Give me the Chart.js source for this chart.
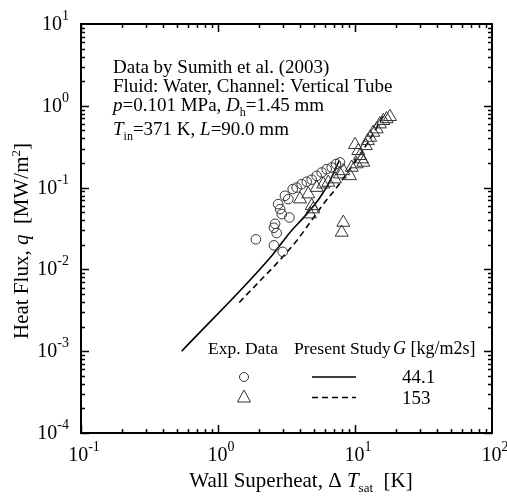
<!DOCTYPE html>
<html>
<head>
<meta charset="utf-8">
<script src="https://cdn.jsdelivr.net/npm/chart.js@4"></script>
<style>
  html, body { margin: 0; padding: 0; background: #fff; }
</style>
</head>
<body>
<canvas id="canvas1" width="507" height="496"></canvas>
<script>
//------------------------------- data -------------------------------
// Exp. data, G = 44.1 kg/m2s (circles)
const exp44X = [1.89, 2.56, 2.97, 2.61, 2.56, 2.68, 2.75, 2.84, 2.92, 3.08, 3.26, 3.32, 3.51, 3.75, 4.08, 4.44, 4.83, 5.25, 5.71, 6.21, 6.76, 7.27, 7.77];
const exp44Y = [0.0233, 0.0197, 0.0164, 0.0361, 0.0323, 0.0278, 0.0628, 0.0546, 0.0474, 0.0794, 0.0723, 0.0431, 0.0959, 0.100, 0.110, 0.118, 0.125, 0.139, 0.153, 0.168, 0.176, 0.194, 0.203];
// Exp. data, G = 153 kg/m2s (triangles)
const exp153X = [3.97, 4.56, 4.69, 4.83, 4.96, 5.25, 5.87, 6.38, 7.14, 7.77, 8.00, 8.22, 8.22, 9.19, 9.46, 10.3, 10.0, 10.57, 10.88, 11.2, 11.5, 12.0, 12.4, 12.9, 13.6, 14.4, 15.2, 16.1, 17.0, 18.0];
const exp153Y = [0.0723, 0.0833, 0.0474, 0.0599, 0.0546, 0.100, 0.110, 0.1154, 0.127, 0.146, 0.0283, 0.0374, 0.160, 0.139, 0.176, 0.194, 0.334, 0.282, 0.245, 0.223, 0.203, 0.324, 0.373, 0.410, 0.472, 0.519, 0.597, 0.656, 0.69, 0.734];
// Present study
const model44X = [0.543, 2.47, 3.35, 4.44, 5.55, 6.57, 7.35, 7.68];
const model44Y = [0.00100, 0.0147, 0.0283, 0.0474, 0.0757, 0.121, 0.185, 0.213];
const model153X = [1.43, 3.75, 4.69, 5.87, 7.35, 8.45, 12.2, 16.6];
const model153Y = [0.00394, 0.0224, 0.0374, 0.0628, 0.100, 0.139, 0.340, 0.821];

// axis decades (tick labels 10^n)
const xExp = [-1, 0, 1, 2];
const yExp = [-4, -3, -2, -1, 0, 1];
const legendG = ["44.1", "153"];

function pts(xs, ys) {
  return xs.map((x, i) => ({ x: x, y: ys[i] }));
}

const FONT = '"Liberation Serif", "Times New Roman", serif';

// draws a list of text pieces: {t, it (italic), sz, dy}
function segWidth(ctx, segs) {
  let w = 0;
  segs.forEach((s) => {
    ctx.font = (s.it ? "italic " : "") + s.sz + "px " + FONT;
    w += ctx.measureText(s.t).width;
  });
  return w;
}
function drawSegs(ctx, x, y, segs) {
  segs.forEach((s) => {
    ctx.font = (s.it ? "italic " : "") + s.sz + "px " + FONT;
    ctx.fillText(s.t, x, y + (s.dy || 0));
    x += ctx.measureText(s.t).width;
  });
}

const decor = {
  id: "decor",
  afterDraw(chart) {
    const ctx = chart.ctx;
    const a = chart.chartArea;
    const xs = chart.scales.x, ys = chart.scales.y;
    ctx.save();
    ctx.strokeStyle = "#000";
    ctx.fillStyle = "#000";
    ctx.lineWidth = 1.5;
    ctx.beginPath();
    // minor / major ticks, inside on all four sides
    for (let d = -1; d < 2; d++) {
      for (let k = 1; k < 10; k++) {
        const px = Math.round(xs.getPixelForValue(k * Math.pow(10, d))) + 0.5;
        const len = k === 1 ? 8 : 4;
        ctx.moveTo(px, a.bottom); ctx.lineTo(px, a.bottom - len);
        ctx.moveTo(px, a.top); ctx.lineTo(px, a.top + len);
      }
    }
    for (let d = -4; d < 1; d++) {
      for (let k = 1; k < 10; k++) {
        const py = Math.round(ys.getPixelForValue(k * Math.pow(10, d))) + 0.5;
        const len = k === 1 ? 8 : 4;
        ctx.moveTo(a.left, py); ctx.lineTo(a.left + len, py);
        ctx.moveTo(a.right, py); ctx.lineTo(a.right - len, py);
      }
    }
    ctx.stroke();
    ctx.lineWidth = 2;
    ctx.strokeRect(a.left, a.top, a.right - a.left, a.bottom - a.top);

    // tick labels
    ctx.textAlign = "left";
    ctx.textBaseline = "alphabetic";
    xExp.forEach((e) => {
      const segs = [{ t: "10", sz: 20 }, { t: String(e), sz: 14, dy: -10 }];
      const w = segWidth(ctx, segs);
      const px = xs.getPixelForValue(Math.pow(10, e));
      drawSegs(ctx, px - w / 2 + 3, a.bottom + 28, segs);
    });
    yExp.forEach((e) => {
      const segs = [{ t: "10", sz: 20 }, { t: String(e), sz: 14, dy: -10 }];
      const w = segWidth(ctx, segs);
      const py = ys.getPixelForValue(Math.pow(10, e));
      drawSegs(ctx, a.left - 12 - w, py + 6, segs);
    });

    // axis titles
    const xt = [
      { t: "Wall Superheat, \u0394 ", sz: 21 }, { t: "T", sz: 21, it: true },
      { t: "sat", sz: 13, dy: 5 }, { t: "  [K]", sz: 21 }
    ];
    drawSegs(ctx, 301 - segWidth(ctx, xt) / 2, 487, xt);
    const yt = [
      { t: "Heat Flux, ", sz: 21 }, { t: "q", sz: 21, it: true },
      { t: "  [MW/m", sz: 21 }, { t: "2", sz: 13, dy: -8 }, { t: "]", sz: 21 }
    ];
    ctx.save();
    ctx.translate(28, 241);
    ctx.rotate(-Math.PI / 2);
    drawSegs(ctx, -segWidth(ctx, yt) / 2, 0, yt);
    ctx.restore();

    // annotation
    drawSegs(ctx, 113, 73, [{ t: "Data by Sumith et al. (2003)", sz: 19 }]);
    drawSegs(ctx, 113, 92, [{ t: "Fluid: Water, Channel: Vertical Tube", sz: 19 }]);
    drawSegs(ctx, 113, 111, [
      { t: "p", sz: 19, it: true }, { t: "=0.101 MPa, ", sz: 19 },
      { t: "D", sz: 19, it: true }, { t: "h", sz: 12, dy: 5 }, { t: "=1.45 mm", sz: 19 }
    ]);
    drawSegs(ctx, 113, 135, [
      { t: "T", sz: 19, it: true }, { t: "in", sz: 12, dy: 5 }, { t: "=371 K, ", sz: 19 },
      { t: "L", sz: 19, it: true }, { t: "=90.0 mm", sz: 19 }
    ]);

    // legend box in the plot
    drawSegs(ctx, 208, 354, [{ t: "Exp. Data", sz: 17.5 }]);
    drawSegs(ctx, 294, 354, [{ t: "Present Study", sz: 17.5 }]);
    drawSegs(ctx, 393, 354, [{ t: "G", sz: 18, it: true }, { t: " [kg/m2s]", sz: 18 }]);
    drawSegs(ctx, 402, 383, [{ t: legendG[0], sz: 19 }]);
    drawSegs(ctx, 402, 404, [{ t: legendG[1], sz: 19 }]);
    ctx.strokeStyle = "#333";
    ctx.lineWidth = 1;
    ctx.beginPath();
    ctx.arc(244, 377, 4.5, 0, Math.PI * 2);
    ctx.stroke();
    ctx.beginPath();
    ctx.moveTo(244, 390); ctx.lineTo(250.5, 402); ctx.lineTo(237.5, 402); ctx.closePath();
    ctx.stroke();
    ctx.strokeStyle = "#000";
    ctx.lineWidth = 1.6;
    ctx.beginPath();
    ctx.moveTo(312, 377); ctx.lineTo(356, 377);
    ctx.stroke();
    ctx.setLineDash([6, 4]);
    ctx.beginPath();
    ctx.moveTo(312, 397.5); ctx.lineTo(356, 397.5);
    ctx.stroke();
    ctx.restore();
  }
};

var chart = new Chart(document.getElementById("canvas1"), {
  type: "scatter",
  data: {
    datasets: [
      {
        label: "Exp. 44.1",
        data: pts(exp44X, exp44Y),
        pointStyle: "circle",
        pointRadius: 4.8,
        borderColor: "#333",
        backgroundColor: "rgba(0,0,0,0)",
        borderWidth: 1,
      },
      {
        label: "Exp. 153",
        data: pts(exp153X, exp153Y),
        pointStyle: "triangle",
        pointRadius: 7.5,
        borderColor: "#333",
        backgroundColor: "rgba(0,0,0,0)",
        borderWidth: 1,
      },
      {
        label: "Present 44.1",
        data: pts(model44X, model44Y),
        showLine: true,
        pointRadius: 0,
        borderColor: "#000",
        borderWidth: 1.6,
        cubicInterpolationMode: "monotone",
      },
      {
        label: "Present 153",
        data: pts(model153X, model153Y),
        showLine: true,
        pointRadius: 0,
        borderColor: "#000",
        borderWidth: 1.6,
        borderDash: [6, 4],
        cubicInterpolationMode: "monotone",
      },
    ],
  },
  options: {
    responsive: false,
    animation: false,
    layout: { padding: { left: 81, top: 24, right: 15, bottom: 63 } },
    plugins: { legend: { display: false }, tooltip: { enabled: false } },
    scales: {
      x: { type: "logarithmic", min: 0.1, max: 100, display: false },
      y: { type: "logarithmic", min: 1e-4, max: 10, display: false },
    },
  },
  plugins: [decor],
});
</script>
</body>
</html>
